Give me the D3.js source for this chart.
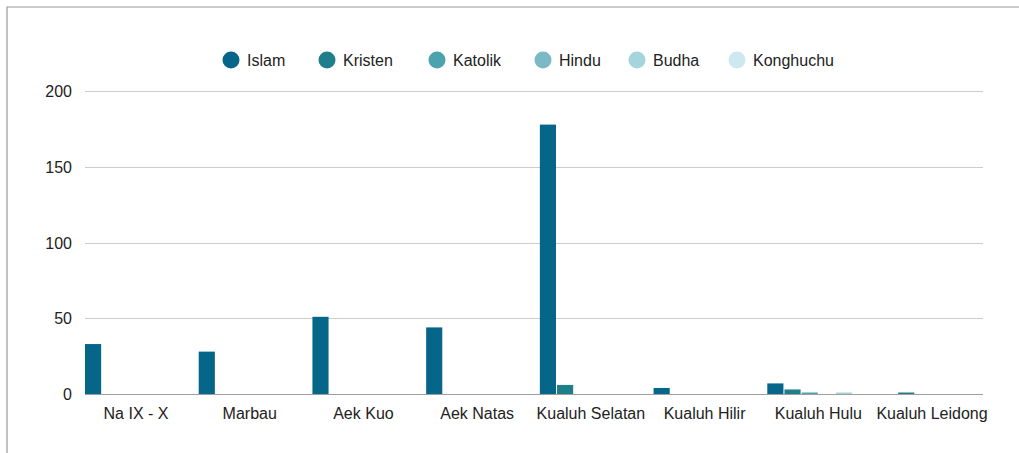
<!DOCTYPE html>
<html>
<head>
<meta charset="utf-8">
<title>Jumlah per agama</title>
<script src="https://d3js.org/d3.v7.min.js"></script>
<style>
body { margin: 0; background: #fff; font-family: "Liberation Sans", Arial, sans-serif; }
.grid line { stroke: #cccccc; shape-rendering: crispEdges; }
.axis text { fill: #222; font-size: 16px; }
</style>
</head>
<body>
<div id="chart"></div>
<script>
var categories = ["Na IX - X", "Marbau", "Aek Kuo", "Aek Natas", "Kualuh Selatan", "Kualuh Hilir", "Kualuh Hulu", "Kualuh Leidong"];
var seriesNames = ["Islam", "Kristen", "Katolik", "Hindu", "Budha", "Konghuchu"];
var colors = ["#05668a", "#1e7e89", "#4ca3ae", "#7bb9c6", "#a6d4de", "#cde8ee"];

var islam     = [33, 28, 51, 44, 178, 4, 7, 0];
var kristen   = [0, 0, 0, 0, 6, 0, 3, 1];
var katolik   = [0, 0, 0, 0, 0, 0, 1, 0];
var hindu     = [0, 0, 0, 0, 0, 0, 0, 0];
var budha     = [0, 0, 0, 0, 0, 0, 1, 0];
var konghuchu = [0, 0, 0, 0, 0, 0, 0, 0];
var yTicks = [0, 50, 100, 150, 200];

var seriesValues = [islam, kristen, katolik, hindu, budha, konghuchu];

var width = 1019, height = 453;
var svg = d3.select("#chart").append("svg")
  .attr("width", width)
  .attr("height", height);

// frame
svg.append("path")
  .attr("d", "M7,453 V7 H1019")
  .attr("fill", "none")
  .attr("stroke", "#9a9a9a")
  .attr("stroke-width", 1.2);

var x0 = d3.scaleBand().domain(categories).range([85, 983]).paddingInner(0.103).paddingOuter(0);
var x1 = d3.scaleBand().domain(seriesNames).range([0, x0.bandwidth()]).paddingInner(0.06);
var y = d3.scaleLinear().domain([0, 200]).range([394, 91.3]);

// grid
var grid = svg.append("g").attr("class", "grid");
grid.selectAll("line").data(yTicks.filter(function(d) { return d > 0; })).enter().append("line")
  .attr("x1", 85).attr("x2", 983)
  .attr("y1", function(d) { return Math.round(y(d)) + 0.5; })
  .attr("y2", function(d) { return Math.round(y(d)) + 0.5; });

// y labels
var yAxis = d3.axisLeft(y).tickValues(yTicks).tickSize(0).tickPadding(0);
var yg = svg.append("g").attr("class", "axis").attr("transform", "translate(72,0)").call(yAxis);
yg.select(".domain").remove();
yg.selectAll("text").attr("font-family", "Liberation Sans, Arial, sans-serif").attr("dy", "0.35em");

// bars
var groups = svg.selectAll(".grp").data(categories).enter().append("g")
  .attr("class", "grp")
  .attr("transform", function(d) { return "translate(" + x0(d) + ",0)"; });

groups.selectAll("rect")
  .data(function(d, i) {
    return seriesNames.map(function(s, j) { return { s: s, j: j, v: seriesValues[j][i] }; });
  })
  .enter().filter(function(d) { return d.v > 0; })
  .append("rect")
  .attr("x", function(d) { return x1(d.s); })
  .attr("width", x1.bandwidth())
  .attr("y", function(d) { return y(d.v); })
  .attr("height", function(d) { return y(0) - y(d.v); })
  .attr("fill", function(d) { return colors[d.j]; });

// baseline
svg.append("line")
  .attr("x1", 85).attr("x2", 983)
  .attr("y1", 394.5).attr("y2", 394.5)
  .attr("stroke", "#9e9e9e");

// x labels
var xAxis = d3.axisBottom(x0).tickSize(0).tickPadding(0);
var xg = svg.append("g").attr("class", "axis").attr("transform", "translate(0,405)").call(xAxis);
xg.select(".domain").remove();
xg.selectAll("text").attr("font-family", "Liberation Sans, Arial, sans-serif").attr("dy", "0.85em");

// legend
var legendX = [231, 327, 437, 543, 637, 737];
var legend = svg.selectAll(".legend").data(seriesNames).enter().append("g")
  .attr("class", "legend")
  .attr("transform", function(d, i) { return "translate(" + legendX[i] + ",60)"; });
legend.append("circle").attr("r", 8.5).attr("fill", function(d, i) { return colors[i]; });
legend.append("text")
  .attr("x", 16).attr("dy", "0.35em")
  .attr("font-size", 16)
  .attr("fill", "#222")
  .text(function(d) { return d; });
</script>
</body>
</html>
